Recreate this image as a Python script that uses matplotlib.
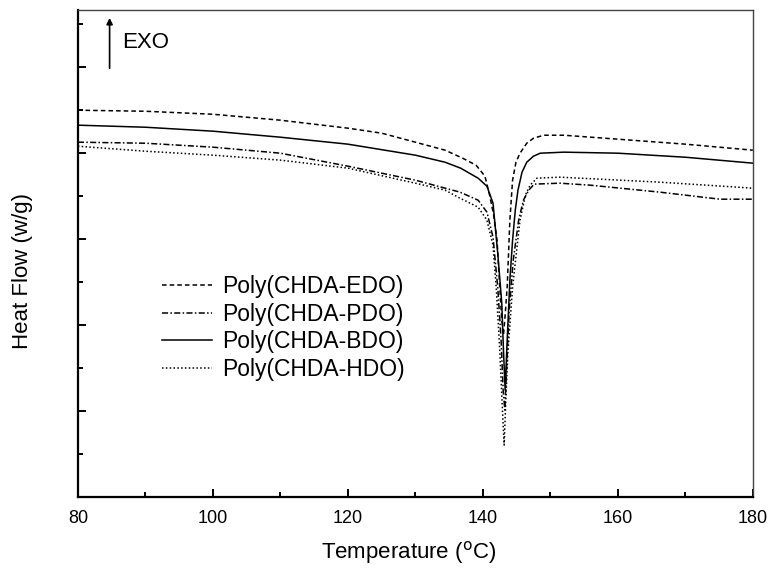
import matplotlib
matplotlib.use('Agg')
import matplotlib.pyplot as plt
from matplotlib.ticker import MultipleLocator, NullFormatter

plt.rcParams['font.family'] = ['Liberation Sans', 'DejaVu Sans']

# DSC traces (heat flow in arbitrary units, exo up)
T_EDO = [80, 90, 100, 110, 120, 125, 130, 134.4, 137, 139, 140.3, 141.0, 141.6, 142.1, 142.5,
         142.8, 143.05, 143.3, 143.6, 144.0, 144.4, 144.9, 145.5, 146.5, 147.5, 149, 152, 160, 170, 180]
HF_EDO = [4.500, 4.488, 4.453, 4.384, 4.291, 4.233, 4.128, 4.035, 3.942, 3.860, 3.733, 3.512, 3.279,
          2.988, 2.442, 2.058, 1.884, 2.116, 2.442, 3.221, 3.686, 3.895, 4.000, 4.116, 4.174, 4.209,
          4.209, 4.163, 4.105, 4.035]

T_PDO = [80, 90, 100, 110, 120, 130, 134.4, 136.6, 139.3, 140.6, 141.5, 142.2, 142.7, 143.0, 143.25,
         143.5, 143.9, 144.5, 145.3, 146.0, 146.8, 147.6, 151.4, 155.9, 166.2, 175.1, 180]
HF_PDO = [4.128, 4.116, 4.070, 4.000, 3.849, 3.686, 3.593, 3.547, 3.453, 3.314, 3.023, 2.442, 1.826,
          1.244, 1.012, 1.477, 2.174, 2.756, 3.221, 3.453, 3.570, 3.640, 3.651, 3.628, 3.547, 3.465,
          3.465]

T_BDO = [80, 90, 100, 110, 120, 130, 134.4, 136.7, 139.3, 140.6, 141.5, 142.2, 142.8, 143.05, 143.3,
         143.6, 144.0, 144.4, 144.8, 145.2, 145.8, 146.5, 147.5, 148.5, 152, 160, 170, 180]
HF_BDO = [4.326, 4.302, 4.256, 4.186, 4.105, 3.977, 3.895, 3.826, 3.709, 3.616, 3.419, 2.837, 2.256,
          1.709, 1.244, 1.826, 2.523, 2.988, 3.337, 3.570, 3.779, 3.895, 3.965, 4.000, 4.012, 4.000,
          3.953, 3.884]

T_HDO = [80, 90, 100, 110, 120, 130, 134.4, 136.6, 139.3, 140.6, 141.5, 142.0, 142.5, 142.9, 143.15,
         143.4, 143.7, 144.4, 145.5, 146.3, 147.0, 148.0, 151.4, 166.2, 180]
HF_HDO = [4.081, 4.023, 3.977, 3.919, 3.826, 3.651, 3.570, 3.477, 3.372, 3.221, 2.930, 2.407, 1.709,
          1.012, 0.605, 1.128, 1.674, 2.442, 3.221, 3.512, 3.628, 3.709, 3.721, 3.663, 3.593]

LABELS = ['Poly(CHDA-EDO)', 'Poly(CHDA-PDO)', 'Poly(CHDA-BDO)', 'Poly(CHDA-HDO)']

fig = plt.figure(figsize=(7.71, 5.69), dpi=100)
ax = fig.add_axes([0.101, 0.1265, 0.8755, 0.8555])

ax.plot(T_EDO, HF_EDO, color='black', lw=1.1, linestyle=(0, (3, 2)), label=LABELS[0])
ax.plot(T_PDO, HF_PDO, color='black', lw=1.1, linestyle=(0, (4, 1.5, 1, 1.5)), label=LABELS[1])
ax.plot(T_BDO, HF_BDO, color='black', lw=1.1, linestyle='-', label=LABELS[2])
ax.plot(T_HDO, HF_HDO, color='black', lw=1.1, linestyle=(0, (1, 1.5)), label=LABELS[3])

ax.set_xlim(80, 180)
ax.set_ylim(0, 5.663)
ax.xaxis.set_major_locator(MultipleLocator(20))
ax.xaxis.set_minor_locator(MultipleLocator(10))
ax.yaxis.set_major_locator(MultipleLocator(1))
ax.yaxis.set_minor_locator(MultipleLocator(0.5))
ax.yaxis.set_major_formatter(NullFormatter())
ax.tick_params(which='both', direction='in', top=False, right=False, width=1.4)
ax.tick_params(which='major', length=6)
ax.tick_params(which='minor', length=3.6)
ax.tick_params(axis='x', labelsize=13, pad=9)

for side in ['left', 'bottom']:
    ax.spines[side].set_linewidth(1.6)
for side in ['top', 'right']:
    ax.spines[side].set_linewidth(1.0)
    ax.spines[side].set_color('#444444')

ax.set_xlabel('Temperature ($^{\\rm o}$C)', fontsize=16)
ax.xaxis.set_label_coords(0.49, -0.086)
ax.set_ylabel('Heat Flow (w/g)', fontsize=16)
ax.yaxis.set_label_coords(-0.066, 0.464)

# EXO arrow
ax.annotate('', xy=(0.047, 0.99), xytext=(0.047, 0.875), xycoords='axes fraction',
            arrowprops=dict(arrowstyle='-|>', color='black', lw=1.2, mutation_scale=9))
ax.text(0.066, 0.934, 'EXO', transform=ax.transAxes, fontsize=16, va='center', ha='left')

ax.legend(loc='upper left', bbox_to_anchor=(0.1244, 0.456), frameon=False, fontsize=16.5,
          handlelength=2.2, handletextpad=0.45, labelspacing=0.2, borderpad=0, borderaxespad=0)

fig.savefig('out.png', dpi=100)
